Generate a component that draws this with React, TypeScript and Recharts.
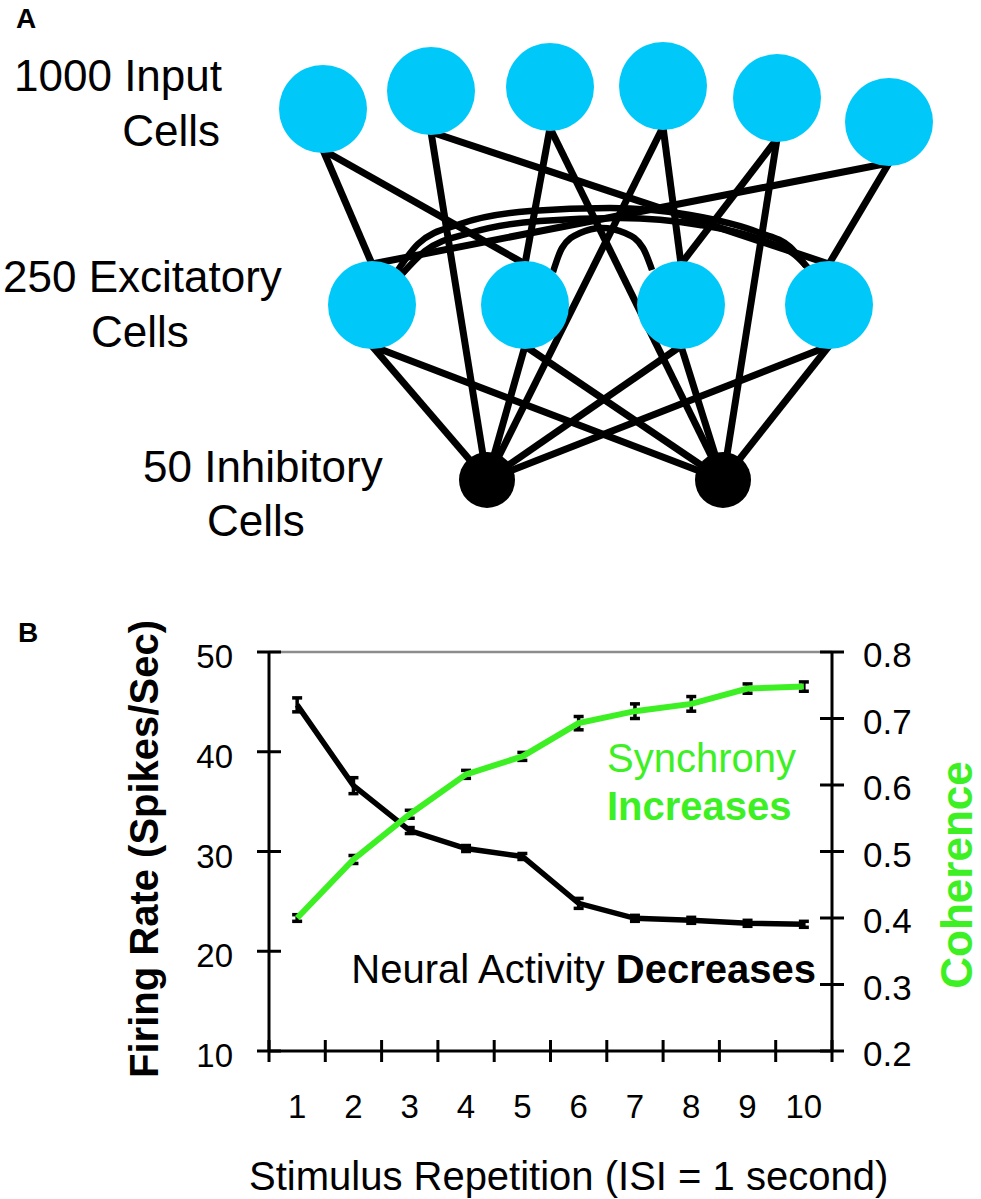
import React from 'react';
import { ComposedChart, Line, Scatter, XAxis, YAxis, ErrorBar, ReferenceLine } from 'recharts';

const FONT = '"Liberation Sans", Arial, Helvetica, sans-serif';
const GREEN = '#3CF023';
const CYAN = '#00C9F9';

// ---------- Panel A: network layout ----------
const inputNodes = [
  { id: 'I1', x: 323, y: 109 },
  { id: 'I2', x: 431, y: 91 },
  { id: 'I3', x: 550, y: 87 },
  { id: 'I4', x: 663, y: 86 },
  { id: 'I5', x: 777, y: 98 },
  { id: 'I6', x: 889, y: 122 },
];
const excitatoryNodes = [
  { id: 'E1', x: 372, y: 305 },
  { id: 'E2', x: 525, y: 305 },
  { id: 'E3', x: 681, y: 305 },
  { id: 'E4', x: 829, y: 305 },
];
const inhibitoryNodes = [
  { id: 'H1', x: 487, y: 480 },
  { id: 'H2', x: 723, y: 480 },
];
const connections: [string, string][] = [
  ['I1', 'E1'], ['I1', 'E2'], ['I2', 'E4'], ['I3', 'E2'], ['I4', 'E3'], ['I5', 'E3'], ['I6', 'E1'], ['I6', 'E4'],
  ['I2', 'H1'], ['I3', 'H2'], ['I4', 'H1'], ['I5', 'H2'],
  ['E1', 'H1'], ['E1', 'H2'], ['E2', 'H1'], ['E2', 'H2'], ['E3', 'H1'], ['E3', 'H2'], ['E4', 'H1'], ['E4', 'H2'],
];
const recurrentArcs = [
  [{ x: 398, y: 270 }, { x: 418, y: 244 }, { x: 460, y: 224 }, { x: 530, y: 211 }, { x: 610, y: 208 }, { x: 690, y: 215 }, { x: 760, y: 233 }, { x: 790, y: 247 }, { x: 806, y: 266 }],
  [{ x: 402, y: 274 }, { x: 425, y: 251 }, { x: 470, y: 233 }, { x: 540, y: 221 }, { x: 620, y: 218 }, { x: 700, y: 225 }, { x: 765, y: 241 }, { x: 795, y: 255 }, { x: 810, y: 270 }],
  [{ x: 553, y: 272 }, { x: 562, y: 248 }, { x: 580, y: 233 }, { x: 602, y: 228 }, { x: 625, y: 233 }, { x: 643, y: 248 }, { x: 652, y: 270 }],
];

const R_BIG = 44;
const R_SMALL = 28;

type Node = { id: string; x: number; y: number };
const allNodes: (Node & { kind: string })[] = [
  ...inputNodes.map((n) => ({ ...n, kind: 'I' })),
  ...excitatoryNodes.map((n) => ({ ...n, kind: 'E' })),
  ...inhibitoryNodes.map((n) => ({ ...n, kind: 'H' })),
];
const byId: Record<string, Node & { kind: string }> = {};
allNodes.forEach((n) => { byId[n.id] = n; });

function bottomOf(n: Node & { kind: string }) {
  return { x: n.x, y: n.y + R_BIG - 3 };
}
function topOf(n: Node & { kind: string }) {
  if (n.kind === 'H') return { x: n.x, y: n.y };
  return { x: n.x, y: n.y - R_BIG + 3 };
}
const edgeSegments = connections.map(([a, b]) => [bottomOf(byId[a]), topOf(byId[b])]);

// ---------- Panel B data ----------
const repetitions = [1, 2, 3, 4, 5, 6, 7, 8, 9, 10];
const firingRate = [44.7, 36.6, 32.1, 30.3, 29.5, 24.8, 23.3, 23.1, 22.8, 22.7];
const firingRateErr = [0.7, 0.8, 0.3, 0.3, 0.3, 0.5, 0.3, 0.3, 0.3, 0.3];
const coherence = [0.4, 0.488, 0.556, 0.616, 0.643, 0.693, 0.711, 0.722, 0.745, 0.748];
const coherenceErr = [0.005, 0.006, 0.006, 0.006, 0.006, 0.01, 0.011, 0.011, 0.007, 0.007];
const leftTicks = [10, 20, 30, 40, 50];
const rightTicks = [0.2, 0.3, 0.4, 0.5, 0.6, 0.7, 0.8];
const xTicks = [...repetitions.flatMap((r) => [r - 0.5, r]), repetitions[repetitions.length - 1] + 0.5];

const seriesData = repetitions.map((r, i) => ({
  rep: r,
  fr: firingRate[i],
  frErr: firingRateErr[i],
  coh: coherence[i],
  cohErr: coherenceErr[i],
}));

const LeftTick = (props: any) => {
  const { x, y, payload } = props;
  return (
    <g>
      <line x1={x - 12} x2={x + 12} y1={y} y2={y} stroke="#000" strokeWidth={3} />
      <text x={x - 36} y={y + 16} textAnchor="end" fontSize={33} fontFamily={FONT} fill="#000">
        {payload.value}
      </text>
    </g>
  );
};

const RightTick = (props: any) => {
  const { x, y, payload } = props;
  return (
    <g>
      <line x1={x - 12} x2={x + 12} y1={y} y2={y} stroke="#000" strokeWidth={3} />
      <text x={x + 31} y={y + 15} textAnchor="start" fontSize={35} fontFamily={FONT} fill="#000">
        {Number(payload.value).toFixed(1)}
      </text>
    </g>
  );
};

const BottomTick = (props: any) => {
  const { x, y, payload } = props;
  const v = payload.value;
  if (Number.isInteger(v)) {
    return (
      <text x={x} y={y + 67} textAnchor="middle" fontSize={33} fontFamily={FONT} fill="#000">
        {v}
      </text>
    );
  }
  return <line x1={x} x2={x} y1={y - 11} y2={y + 11} stroke="#000" strokeWidth={3} />;
};

const NodeShape = (fill: string, r: number) => (props: any) => (
  <circle cx={props.cx} cy={props.cy} r={r} fill={fill} />
);

export default function App() {
  return (
    <div style={{ position: 'absolute', left: 0, top: 0, width: 981, height: 1199, background: '#fff', fontFamily: FONT }}>
      {/* Panel A */}
      <div style={{ position: 'absolute', left: 0, top: 0 }}>
        <ComposedChart width={981} height={560} margin={{ top: 0, right: 0, bottom: 0, left: 0 }}>
          <XAxis type="number" dataKey="x" domain={[0, 981]} hide allowDataOverflow />
          <YAxis type="number" dataKey="y" domain={[0, 560]} reversed hide allowDataOverflow />
          {edgeSegments.map((seg, i) => (
            <Line
              key={'e' + i}
              data={seg}
              dataKey="y"
              type="linear"
              stroke="#000"
              strokeWidth={7}
              dot={false}
              activeDot={false}
              isAnimationActive={false}
            />
          ))}
          {recurrentArcs.map((arc, i) => (
            <Line
              key={'a' + i}
              data={arc}
              dataKey="y"
              type="monotone"
              stroke="#000"
              strokeWidth={6.5}
              dot={false}
              activeDot={false}
              isAnimationActive={false}
            />
          ))}
          <Scatter data={inputNodes} shape={NodeShape(CYAN, R_BIG)} isAnimationActive={false} />
          <Scatter data={excitatoryNodes} shape={NodeShape(CYAN, R_BIG)} isAnimationActive={false} />
          <Scatter data={inhibitoryNodes} shape={NodeShape('#000', R_SMALL)} isAnimationActive={false} />
        </ComposedChart>
      </div>

      {/* Panel B */}
      <div style={{ position: 'absolute', left: 0, top: 560 }}>
        <ComposedChart width={981} height={639} data={seriesData} margin={{ top: 92, right: 69, bottom: 88, left: 189 }}>
          <XAxis
            type="number"
            dataKey="rep"
            domain={[0.5, 10.5]}
            ticks={xTicks}
            interval={0}
            tickSize={0}
            tickMargin={0}
            tickLine={false}
            height={60}
            axisLine={{ stroke: '#000', strokeWidth: 3 }}
            tick={BottomTick}
            allowDataOverflow
          />
          <YAxis
            yAxisId="left"
            type="number"
            domain={[10, 50]}
            ticks={leftTicks}
            interval={0}
            width={80}
            tickSize={0}
            tickMargin={0}
            tickLine={false}
            axisLine={{ stroke: '#000', strokeWidth: 3 }}
            tick={LeftTick}
            allowDataOverflow
          />
          <YAxis
            yAxisId="right"
            orientation="right"
            type="number"
            domain={[0.2, 0.8]}
            ticks={rightTicks}
            interval={0}
            width={80}
            tickSize={0}
            tickMargin={0}
            tickLine={false}
            axisLine={{ stroke: '#000', strokeWidth: 3 }}
            tick={RightTick}
            allowDataOverflow
          />
          <ReferenceLine yAxisId="left" y={50} stroke="#8c8c8c" strokeWidth={2.5} />
          <Line
            yAxisId="left"
            dataKey="fr"
            type="linear"
            stroke="#000"
            strokeWidth={5.5}
            dot={false}
            activeDot={false}
            isAnimationActive={false}
          >
            <ErrorBar dataKey="frErr" direction="y" width={5} strokeWidth={3.5} stroke="#000" isAnimationActive={false} />
          </Line>
          <Line
            yAxisId="right"
            dataKey="coh"
            type="linear"
            stroke={GREEN}
            strokeWidth={6}
            dot={false}
            activeDot={false}
            isAnimationActive={false}
          >
            <ErrorBar dataKey="cohErr" direction="y" width={5} strokeWidth={3.5} stroke="#000" isAnimationActive={false} />
          </Line>
        </ComposedChart>
      </div>

      {/* Text overlay */}
      <svg width={981} height={1199} style={{ position: 'absolute', left: 0, top: 0, pointerEvents: 'none' }} fontFamily={FONT}>
        <text x={16} y={28} fontSize={28} fontWeight="bold" fill="#000">A</text>
        <text x={222} y={91} fontSize={44} textAnchor="end" fill="#000">1000 Input</text>
        <text x={220} y={146} fontSize={44} textAnchor="end" fill="#000">Cells</text>
        <text x={3} y={292} fontSize={44} fill="#000">250 Excitatory</text>
        <text x={91} y={347} fontSize={44} fill="#000">Cells</text>
        <text x={143} y={482} fontSize={44} fill="#000">50 Inhibitory</text>
        <text x={207} y={536} fontSize={44} fill="#000">Cells</text>

        <text x={18} y={642} fontSize={28} fontWeight="bold" fill="#000">B</text>
        <text transform="translate(158,849) rotate(-90)" textAnchor="middle" fontSize={40} fontWeight="bold" fill="#000">
          Firing Rate (Spikes/Sec)
        </text>
        <text transform="translate(972,875) rotate(-90)" textAnchor="middle" fontSize={44} fontWeight="bold" fill={GREEN}>
          Coherence
        </text>
        <text x={607} y={772} fontSize={40} fill={GREEN}>Synchrony</text>
        <text x={607} y={820} fontSize={40} fontWeight="bold" fill={GREEN}>Increases</text>
        <text x={816} y={983} fontSize={40} textAnchor="end" fill="#000" style={{ whiteSpace: 'pre' }}>
          <tspan>Neural Activity </tspan>
          <tspan fontWeight="bold">Decreases</tspan>
        </text>
        <text x={249} y={1190} fontSize={40} fill="#000">Stimulus Repetition (ISI = 1 second)</text>
      </svg>
    </div>
  );
}
